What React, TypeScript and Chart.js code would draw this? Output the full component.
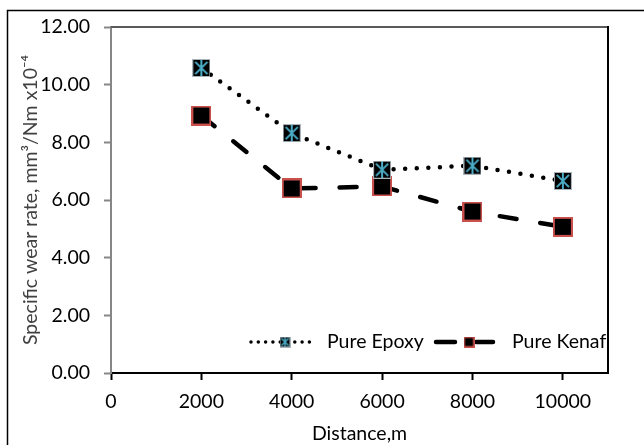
import React, { useEffect, useRef } from 'react';
import { Chart, registerables } from 'chart.js';

Chart.register(...registerables);

const distances = [2000, 4000, 6000, 8000, 10000];
const pureEpoxy = [10.58, 8.32, 7.05, 7.19, 6.66];
const pureKenaf = [8.93, 6.4, 6.47, 5.6, 5.07];
const seriesNames = ['Pure Epoxy', 'Pure Kenaf'];
const xTickValues = [0, 2000, 4000, 6000, 8000, 10000];
const yTickValues = [0, 2, 4, 6, 8, 10, 12];
const xAxisTitle = 'Distance,m';
const yAxisTitle = 'Specific wear rate, mm³/Nm x10⁻⁴';

const FONT = 'Lato';
const FS = 19.5;

function epoxyMarker(size: number) {
  const c = document.createElement('canvas');
  c.width = size;
  c.height = size;
  const ctx = c.getContext('2d')!;
  ctx.fillStyle = '#000';
  ctx.fillRect(0, 0, size, size);
  ctx.strokeStyle = '#a8b4bc';
  ctx.lineWidth = 1;
  ctx.strokeRect(0.5, 0.5, size - 1, size - 1);
  ctx.strokeStyle = '#4bacc6';
  ctx.lineWidth = size > 12 ? 2 : 1.5;
  const m = size * 0.16;
  ctx.beginPath();
  ctx.moveTo(m, m);
  ctx.lineTo(size - m, size - m);
  ctx.moveTo(size - m, m);
  ctx.lineTo(m, size - m);
  ctx.moveTo(size / 2, 1);
  ctx.lineTo(size / 2, size - 1);
  ctx.stroke();
  return c;
}

function kenafMarker(size: number) {
  const c = document.createElement('canvas');
  c.width = size;
  c.height = size;
  const ctx = c.getContext('2d')!;
  ctx.fillStyle = '#000';
  ctx.fillRect(0, 0, size, size);
  const bw = size > 12 ? 2 : 1.5;
  ctx.strokeStyle = '#c9504d';
  ctx.lineWidth = bw;
  ctx.strokeRect(bw / 2, bw / 2, size - bw, size - bw);
  return c;
}

export default function App() {
  const ref = useRef<HTMLCanvasElement>(null);

  useEffect(() => {
    const canvas = ref.current!;
    const epBig = epoxyMarker(18);
    const knBig = kenafMarker(20);
    const epSmall = epoxyMarker(11);
    const knSmall = kenafMarker(11);

    const framePlugin = {
      id: 'frame',
      afterDraw(chart: any) {
        const { ctx, chartArea } = chart;
        ctx.save();
        ctx.lineWidth = 2;
        ctx.strokeStyle = '#5a5a5a';
        ctx.beginPath();
        ctx.moveTo(chartArea.left, chartArea.top);
        ctx.lineTo(chartArea.right, chartArea.top);
        ctx.stroke();
        ctx.strokeStyle = '#000';
        ctx.beginPath();
        ctx.moveTo(chartArea.right, chartArea.top - 1);
        ctx.lineTo(chartArea.right, chartArea.bottom);
        ctx.stroke();
        // outer chart border
        ctx.lineWidth = 1.5;
        ctx.strokeStyle = '#000';
        ctx.beginPath();
        ctx.moveTo(7.5, 446);
        ctx.lineTo(7.5, 10.5);
        ctx.lineTo(646, 10.5);
        ctx.stroke();

        // legend
        const y = 342;
        ctx.lineCap = 'round';
        ctx.strokeStyle = '#000';
        ctx.lineWidth = 3.5;
        ctx.setLineDash([0, 7.3]);
        ctx.beginPath();
        ctx.moveTo(251, y);
        ctx.lineTo(314, y);
        ctx.stroke();
        ctx.setLineDash([]);
        ctx.drawImage(epSmall, 285 - 5.5, y - 5.5);
        ctx.lineWidth = 4.5;
        ctx.beginPath();
        ctx.moveTo(436, y);
        ctx.lineTo(455, y);
        ctx.moveTo(476, y);
        ctx.lineTo(493, y);
        ctx.stroke();
        ctx.drawImage(knSmall, 469 - 5.5, y - 5.5);
        ctx.fillStyle = '#000';
        ctx.font = `${FS}px ${FONT}`;
        ctx.textBaseline = 'middle';
        ctx.textAlign = 'left';
        ctx.fillText(seriesNames[0], 327, y);
        ctx.fillText(seriesNames[1], 512, y);
        ctx.restore();
      },
    };

    const chart = new Chart(canvas, {
      type: 'line',
      data: {
        datasets: [
          {
            label: seriesNames[0],
            data: distances.map((d, i) => ({ x: d, y: pureEpoxy[i] })),
            borderColor: '#000',
            borderWidth: 4.5,
            borderCapStyle: 'round',
            borderDash: [0, 11.6],
            pointStyle: epBig as any,
            pointRadius: 9,
            tension: 0,
            fill: false,
          },
          {
            label: seriesNames[1],
            data: distances.map((d, i) => ({ x: d, y: pureKenaf[i] })),
            borderColor: '#000',
            borderWidth: 4.5,
            borderCapStyle: 'round',
            borderDash: [17, 24],
            pointStyle: knBig as any,
            pointRadius: 10,
            tension: 0,
            fill: false,
          },
        ],
      },
      options: {
        responsive: false,
        animation: false,
        events: [],
        layout: { padding: { top: 27, right: 36, left: 0, bottom: 0 } },
        plugins: { legend: { display: false }, tooltip: { enabled: false } },
        scales: {
          x: {
            type: 'linear',
            min: 0,
            max: 11000,
            afterBuildTicks: (s: any) => {
              s.ticks = xTickValues.map((v) => ({ value: v }));
            },
            afterFit: (s: any) => {
              s.height = 72;
            },
            ticks: {
              color: '#000',
              font: { family: FONT, size: FS },
              padding: 10,
              maxRotation: 0,
              autoSkip: false,
              callback: (v: any) => String(v),
            },
            grid: { drawOnChartArea: false, drawTicks: true, tickLength: 7, tickColor: '#000', tickWidth: 2 },
            border: { display: true, color: '#000', width: 2 },
            title: {
              display: true,
              text: xAxisTitle,
              color: '#000',
              font: { family: FONT, size: FS },
              padding: { top: 0, bottom: 0 },
            },
          },
          y: {
            min: 0,
            max: 12,
            afterBuildTicks: (s: any) => {
              s.ticks = yTickValues.map((v) => ({ value: v }));
            },
            afterFit: (s: any) => {
              s.width = 111;
            },
            ticks: {
              color: '#000',
              font: { family: FONT, size: FS },
              padding: 14,
              autoSkip: false,
              callback: (v: any) => Number(v).toFixed(2),
            },
            grid: { drawOnChartArea: false, drawTicks: true, tickLength: 7, tickColor: '#868686', tickWidth: 2 },
            border: { display: true, color: '#868686', width: 2 },
            title: {
              display: true,
              text: yAxisTitle,
              color: '#404040',
              font: { family: FONT, size: FS },
              padding: { top: 19, bottom: 0 },
            },
          },
        },
      },
      plugins: [framePlugin],
    } as any);
    return () => chart.destroy();
  }, []);

  return (
    <div style={{ position: 'fixed', left: 0, top: 0, width: 644, height: 445, background: '#fff' }}>
      <canvas ref={ref} width={644} height={445} style={{ display: 'block' }} />
    </div>
  );
}
